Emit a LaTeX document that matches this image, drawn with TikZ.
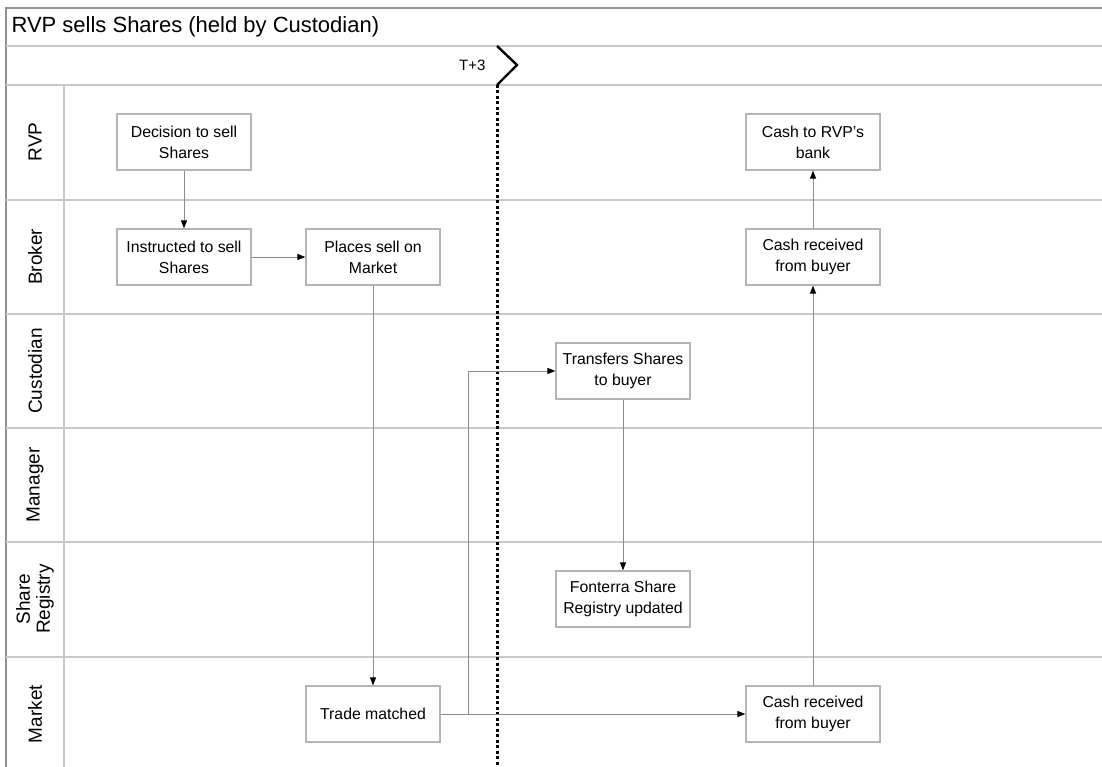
\documentclass[tikz,border=0pt]{standalone}
\usepackage{fontspec}
\setmainfont{Liberation Sans}
\usepackage{tikz}
\usetikzlibrary{arrows.meta,positioning}
\definecolor{LaneGray}{HTML}{C8C8C8}
\definecolor{BoxGray}{HTML}{B4B4B4}
\definecolor{FlowGray}{HTML}{8C8C8C}
\definecolor{FrameGray}{HTML}{909090}

\begin{document}
\begin{tikzpicture}[x=1pt,y=-1pt,
  stepbox/.style={draw=BoxGray,line width=1.2pt,fill=white,minimum width=134pt,
    minimum height=56pt,inner sep=0pt,align=center,font=\fontsize{15.8}{21}\selectfont},
  flow/.style={FlowGray,line width=0.9pt,-{Triangle[length=8pt,width=6pt,color=black]}},
  laneline/.style={LaneGray,line width=1.2pt},
  lanelabel/.style={rotate=90,align=center,font=\fontsize{19}{20}\selectfont}]
  \useasboundingbox (0,0) rectangle (1102,767);
  % frame, header band and lanes
  \draw[FrameGray,line width=1.5pt] (1102,8) -- (6,8) -- (6,767);
  \draw[laneline] (6,46) -- (1102,46);
  \draw[laneline] (6,85) -- (1102,85);
  \foreach \y in {200,314,428,542,657}
    \draw[laneline] (6,\y) -- (1102,\y);
  \draw[laneline] (64,85) -- (64,767);
  \node[anchor=west,font=\fontsize{22}{26}\selectfont] (title) at (8,27) {RVP sells Shares (held by Custodian)};
  \foreach \nm/\yc/\lbl in {rvp/142/RVP,broker/257/Broker,custodian/371/Custodian,
      manager/485/Manager,registry/599/{Share\\Registry},market/714/Market}
    \node[lanelabel] (lane-\nm) at (35,\yc) {\lbl};
  % T+3 milestone
  \node[anchor=east,font=\fontsize{15}{18}\selectfont] (tplus) at (489,65) {T+3};
  \coordinate (mtop) at (497,46);
  \coordinate (mtip) at (517,65);
  \coordinate (mbot) at (497,85);
  \coordinate (mend) at (497,767);
  \draw[black,line width=2.4pt] (mtop) -- (mtip) -- (mbot);
  \draw[black,line width=3pt,dash pattern=on 3pt off 2.5pt] (mbot) -- (mend);
  % steps
  \node[stepbox] (decide) at (184,142) {Decision to sell\\Shares};
  \node[stepbox] (instruct) at (184,257) {Instructed to sell\\Shares};
  \node[stepbox] (place) at (373,257) {Places sell on\\Market};
  \node[stepbox] (trade) at (373,714) {Trade matched};
  \node[stepbox] (transfer) at (623,371) {Transfers Shares\\to buyer};
  \node[stepbox] (registry) at (623,599) {Fonterra Share\\Registry updated};
  \node[stepbox] (cashmkt) at (813,714) {Cash received\\from buyer};
  \node[stepbox] (cashbrk) at (813,257) {Cash received\\from buyer};
  \node[stepbox] (cashrvp) at (813,142) {Cash to RVP's\\bank};
  % flows
  \draw[flow] (decide) -- (instruct);
  \draw[flow] (instruct) -- (place);
  \draw[flow] (place) -- (trade);
  \draw[flow] (trade) -- (cashmkt);
  \draw[flow] (trade.east) -- ++(28,0) |- (transfer.west);
  \draw[flow] (transfer) -- (registry);
  \draw[flow] (cashmkt) -- (cashbrk);
  \draw[flow] (cashbrk) -- (cashrvp);
\end{tikzpicture}
\end{document}
